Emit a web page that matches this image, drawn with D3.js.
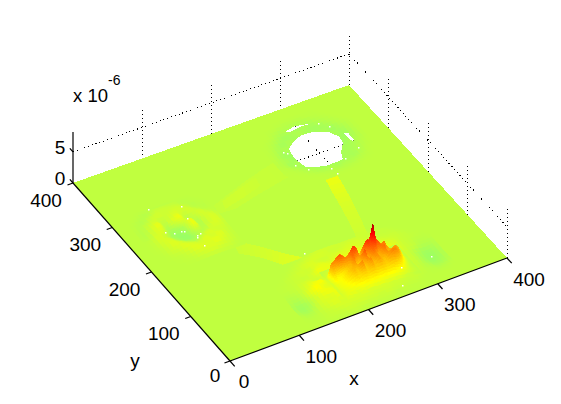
<!DOCTYPE html>
<html>
<head>
<meta charset="utf-8">
<script src="https://cdn.jsdelivr.net/npm/d3@7"></script>
<style>
  html, body { margin: 0; padding: 0; background: #fff; }
  svg { display: block; }
  text { font-family: "Liberation Sans", Arial, sans-serif; fill: #000; }
</style>
</head>
<body>
<svg id="chart" width="561" height="404"></svg>
<script>
// tick values
const xTicks = [0, 100, 200, 300, 400];
const yTicks = [0, 100, 200, 300, 400];
const zTicks = [0, 5];
const zMax = 8.2;              // z values are in units of 1e-6
const colorMin = -9.8, colorMax = 7.6;

// main peak, rows run back to front
const peakXs = [182,186,190,194,198,202,206,210,214,218,222,226,230,234,238,242,246,250,254,258,262,266,270,274,278,282,286,290,294];
const peakYs = [94,86,78,70,62,54,46,38,30];
const peakZ = [
  [0,0,0,0,0,0,0,.1,.2,.2,.2,.3,.3,.3,.3,.4,.4,.4,.3,.3,.2,.2,.2,.1,0,0,0,0,0],
  [0,.2,.3,.4,.5,.6,.8,1,1,1.1,1.2,1.2,1.2,1.2,1.4,1.4,1.5,1.4,1.2,1.2,1,.8,.6,.5,.4,.3,.2,.1,0],
  [.2,.4,.6,.8,1,1.2,1.3,1.4,1.6,2,1.8,1.4,1.7,2.6,3.2,3,3.6,3,2.6,2.2,2.2,1.6,1.3,1.1,.8,.5,.3,.2,0],
  [.3,3.0,3.2,3.8,4.0,3.6,3.2,3.3,4.0,4.6,4.0,2.8,2.3,4.2,4.8,4.4,6.9,4.4,3.8,3.1,3.6,2.6,1.8,1.8,1.7,1.3,.6,.2,0],
  [.3,1.6,1.2,1.1,1.3,1.6,2.1,2.2,3.6,1.8,1.4,3,4.2,2.2,3,3.7,3,2.3,3.1,3.7,2.4,2.4,2.7,2.9,2.5,1.5,.6,.2,0],
  [.3,.9,.9,1.1,1.4,1.7,2,2.4,1.9,2.8,3.2,1.9,2.5,3.2,2.2,2.5,2.9,2.4,2,2.7,3,3.3,3.2,2.7,1.7,.9,.4,.1,0],
  [.3,.7,.9,1,1.2,1.4,1.6,1.8,1.7,1.9,2,1.8,2,2.1,1.9,1.9,2,1.9,1.8,2,2.1,2.1,1.9,1.5,.9,.5,.2,.1,0],
  [.3,.5,.7,.8,.9,1,1.1,1.2,1.2,1.3,1.3,1.2,1.3,1.3,1.2,1.2,1.3,1.2,1.2,1.2,1.1,1,.9,.7,.5,.3,.2,.1,0],
  [.4,.5,.7,.5,.6,.4,.5,.7,.5,.6,.7,.6,.5,.5,.6,.5,.4,.4,.5,.3,.4,.3,.2,.1,.1,.1,0,0,0]
];

// ripples around the peak
const auraXs = [120,130,140,150,160,170,180,190,200,210,220,230,240,250,260,270,280,290,300,310,320,330,340];
const auraYs = [130,120,110,100,90,80,70,60,50,40,30,20,10,0];
const auraZ = [
  [0,0,0,0,0,0,.1,.2,.3,.3,.3,.2,.2,.2,.2,.2,.1,.1,0,0,0,0,0],
  [0,0,0,0,.1,.2,.3,.4,.4,.3,.2,.3,.4,.4,.3,.2,.1,.1,.1,0,0,0,0],
  [0,0,0,.1,.2,.4,.5,.3,.2,.4,.5,.5,.5,.4,.4,.4,.3,.2,.2,.1,0,0,0],
  [0,0,.1,.2,.3,.2,.5,.7,.5,.6,.7,.7,.8,.8,.7,.6,.5,.4,.2,.1,.05,0,0],
  [0,.05,.1,.2,.1,.4,.9,.7,.8,.8,.8,.8,.8,.8,.8,.8,.7,.5,.2,.1,-.05,-.05,0],
  [0,.05,.1,.3,.5,.2,.3,.7,.8,.8,.8,.8,.8,.8,.8,.8,.8,.5,.2,.1,-.15,-.2,-.1],
  [-.05,-.1,.05,.4,.8,1.1,.4,.5,.8,.8,.8,.8,.8,.8,.8,.8,.7,.3,.1,-.25,-.5,-.4,-.1],
  [-.15,-.3,-.1,.6,1.2,.6,.5,.7,.8,.7,.8,.8,.8,.8,.7,.7,.6,.3,.1,-.3,-.6,-.55,-.15],
  [-.25,-.55,-.4,.2,.7,.9,.7,.8,.7,.8,.7,.8,.7,.7,.6,.6,.4,.2,.05,-.3,-.6,-.5,-.15],
  [-.2,-.45,-.3,.3,.5,.4,.8,.6,.7,.6,.7,.6,.5,.6,.4,.5,.3,.2,0,-.15,-.4,-.35,-.1],
  [-.05,-.2,-.1,.2,.4,.6,.3,.6,.4,.6,.4,.5,.4,.3,.3,.2,.2,.1,0,-.05,-.15,-.1,0],
  [0,-.05,0,.1,.2,.3,.4,.3,.4,.3,.3,.2,.3,.2,.2,.1,.1,0,0,0,0,0,0],
  [0,0,0,.1,.1,.1,.2,.2,.1,.1,.1,.1,.1,0,0,0,0,0,0,0,0,0,0],
  [0,0,0,0,0,0,0,0,0,0,0,0,0,0,0,0,0,0,0,0,0,0,0]
];

// left blob
const blobXs = [20,30,40,50,60,70,80,90,100,110,120,130];
const blobYs = [310,300,290,280,270,260,250,240,230,220,210,200,190];
const blobZ = [
  [0,0,0,-.05,-.1,-.1,-.1,-.05,0,0,0,0],
  [0,0,-.1,-.2,.15,.2,.15,.1,-.1,-.05,0,0],
  [0,-.1,-.2,.2,.35,.2,.3,.35,.15,-.15,-.05,0],
  [0,-.15,.15,.35,.05,.25,.5,.25,.35,.1,-.1,0],
  [-.05,-.15,.3,.8,-.2,.4,.9,-.2,.1,.4,.1,0],
  [-.05,-.1,.4,.5,-.4,-.5,-.1,.8,-.3,.3,.4,.05],
  [0,.1,.5,.1,-.5,-.7,-.6,.9,-.25,.2,.5,.1],
  [0,.1,.4,.4,-.15,-.6,-.65,-.15,-.1,.4,.4,.1],
  [0,.05,.25,.6,.3,-.05,-.3,.1,.5,.25,.25,.05],
  [0,0,.2,.3,.6,.4,.2,.6,.3,.6,.2,.05],
  [0,0,.05,.1,.3,.6,.5,.4,.7,.4,.2,0],
  [0,0,0,.05,.1,.3,.4,.5,.3,.25,.1,0],
  [0,0,0,0,0,.05,.1,.1,.1,.05,0,0]
];

// rim around the clipped hole
const ringXs = [240,250,260,270,280,290,300,310,320,330,340,350,360,370];
const ringYs = [380,370,360,350,340,330,320,310,300,290,280,270,260,250];
const ringZ = [
  [0,0,0,0,0,0,0,0,0,0,0,0,0,0],
  [0,0,0,0,-.05,-.15,-.1,-.15,-.05,-.05,0,0,0,0],
  [0,0,0,-.15,-.3,-.2,-.5,-.25,-.4,-.15,-.1,0,0,0],
  [0,0,-.1,-.3,-.5,-.4,-.2,-.4,-.5,-.5,-.2,-.1,0,0],
  [0,-.05,-.25,-.5,-.2,-.4,-.4,-.4,-.4,-.3,-.6,-.25,-.1,0],
  [0,-.1,-.35,-.2,-.5,-.4,-.4,-.4,-.4,-.4,-.3,-.5,-.15,0],
  [0,-.15,-.5,-.5,-.4,-.4,-.4,-.4,-.4,-.4,-.5,-.6,-.2,0],
  [0,-.2,-.3,-.6,-.4,-.4,-.4,-.4,-.4,-.4,-.5,-.35,-.2,0],
  [-.05,-.15,-.5,-.25,-.5,-.4,-.4,-.4,-.4,-.4,-.4,-.3,-.1,0],
  [0,-.05,-.2,-.4,-.5,-.4,-.4,-.4,-.4,-.4,-.35,-.25,-.05,0],
  [0,0,-.05,-.2,-.3,-.45,-.5,-.4,-.5,-.35,-.4,-.15,0,0],
  [0,0,0,-.05,-.15,-.25,-.2,-.35,-.2,-.25,-.15,-.05,0,0],
  [0,0,0,0,0,-.05,-.1,-.1,-.1,-.05,0,0,0,0],
  [0,0,0,0,0,0,0,0,0,0,0,0,0,0]
];

// faint beams between the three sources: [x1, y1, x2, y2, z] across each beam
const beamA = [
  [133,275,130,258,.08],
  [160,286,155,256,.12],
  [190,297,182,264,.14],
  [215,305,212,271,.12],
  [242,313,243,278,.1]
];
const beamAcore = [
  [146,277,142,262,.22],
  [176,288,172,270,.26],
  [206,298,203,280,.18]
];
const beamB = [
  [283,264,300,263,.9],
  [276,228,294,227,.6],
  [270,192,287,190,.38],
  [263,156,279,155,.28],
  [256,126,270,118,.2]
];
const beamC = [
  [120,203,113,178,.18],
  [142,178,134,156,.28],
  [164,148,152,128,.46],
  [186,124,174,112,.6],
  [206,108,192,100,.55]
];

// clipped parts of the surface, in x/y
const holeMain = [[270.5,325.8],[281.8,335.2],[297.3,342.1],[315.3,340.7],[330.5,331.9],[337.6,316.5],[336.2,303.6],[324.2,287.9],[319.5,274.6],[308.9,273.9],[294.2,273.5],[280.1,279.3],[271.4,284.4],[268.7,297.3],[268.1,311.3]];
const holeLeft = [[284.8,358.4],[298.4,361.9],[311.2,359],[319.8,356.3],[306.1,357.5],[293.5,355.7],[287.1,354.8]];
const holeRight = [[345.9,320.7],[351.3,317.6],[351,301.9],[347.9,299],[346.4,309.1]];
const specks = [[185,138],[261,21],[320,53],[276,52],[58,310],[96,294],[91,270],[53,260],[62,253],[72,252],[75,250],[85,235],[84,231],[91,236],[83,213],[328,353],[337,341],[303,342],[348,287],[261,324],[264,320],[261,294],[271,279],[298,268],[299,254],[324,276]];

const svg = d3.select("#chart");

// corners of the box floor on screen
const front = [230, 361], right = [507, 258], left = [73, 183], back = [349, 85];

const xScale = d3.scaleLinear().domain([0, 400]).range([0, 1]);
const yScale = d3.scaleLinear().domain([0, 400]).range([0, 1]);
const zScale = d3.scaleLinear().domain([0, zMax]).range([0, 51]);

function project(x, y, z) {
  const u = xScale(x), v = yScale(y);
  const px = (1 - u) * (1 - v) * front[0] + u * (1 - v) * right[0] + (1 - u) * v * left[0] + u * v * back[0];
  const py = (1 - u) * (1 - v) * front[1] + u * (1 - v) * right[1] + (1 - u) * v * left[1] + u * v * back[1];
  return [px, py - zScale(z)];
}

// jet colormap
const jet = d3.scaleLinear()
  .domain([0, .125, .375, .625, .875, 1])
  .range(["#00008f", "#0000ff", "#00ffff", "#ffff00", "#ff0000", "#800000"])
  .clamp(true);
const zColor = z => jet((z - colorMin) / (colorMax - colorMin));

const line = d3.line();
const polyPath = pts => line(pts) + "Z";

function dotted(g, p0, p1) {
  g.append("line")
    .attr("x1", p0[0]).attr("y1", p0[1])
    .attr("x2", p1[0]).attr("y2", p1[1])
    .attr("stroke", "#000")
    .attr("stroke-width", 1)
    .attr("stroke-dasharray", "1 3")
    .attr("shape-rendering", "crispEdges");
}

// back walls
const wall = svg.append("g");
xTicks.slice(1).forEach(t => dotted(wall, project(t, 400, 0), project(t, 400, zMax)));
yTicks.slice(0, -1).forEach(t => dotted(wall, project(400, t, 0), project(400, t, zMax)));
zTicks.slice(1).forEach(t => {
  dotted(wall, project(0, 400, t), project(400, 400, t));
  dotted(wall, project(400, 400, t), project(400, 0, t));
});

// flat part of the surface
const surface = svg.append("g").attr("shape-rendering", "crispEdges");
surface.append("path")
  .attr("d", polyPath([project(0, 0, 0), project(400, 0, 0), project(400, 400, 0), project(0, 400, 0)]))
  .attr("fill", zColor(0));

// beams
function drawBeam(stations) {
  d3.pairs(stations).forEach(([a, b]) => {
    const steps = 4;
    d3.range(steps).forEach(i => {
      const s0 = i / steps, s1 = (i + 1) / steps;
      const at = (k, s) => a[k] + (b[k] - a[k]) * s;
      surface.append("path")
        .attr("d", polyPath([
          project(at(0, s0), at(1, s0), 0), project(at(2, s0), at(3, s0), 0),
          project(at(2, s1), at(3, s1), 0), project(at(0, s1), at(1, s1), 0)
        ]))
        .attr("fill", zColor(at(4, (s0 + s1) / 2)));
    });
  });
}
drawBeam(beamA);
drawBeam(beamAcore);
drawBeam(beamB);
drawBeam(beamC);

// height fields, painted from the back corner forwards
function drawMesh(xs, ys, zs) {
  for (let r = 0; r < ys.length - 1; r++) {
    for (let c = xs.length - 2; c >= 0; c--) {
      const zBackRight = zs[r][c + 1], zBackLeft = zs[r][c];
      const zFrontRight = zs[r + 1][c + 1], zFrontLeft = zs[r + 1][c];
      const all = [zBackRight, zBackLeft, zFrontRight, zFrontLeft];
      if (all.every(d => d === 0)) continue;
      // fine shading inside a cell so the colour follows the height
      const n = Math.max(2, Math.min(14, Math.ceil((d3.max(all) - d3.min(all)) * 3)));
      for (let j = 0; j < n; j++) {
        for (let i = n - 1; i >= 0; i--) {
          const corner = (ii, jj) => {
            const s = ii / n, t = jj / n;
            const x = xs[c] + (xs[c + 1] - xs[c]) * s;
            const y = ys[r] + (ys[r + 1] - ys[r]) * t;
            const z = (1 - t) * ((1 - s) * zBackLeft + s * zBackRight) + t * ((1 - s) * zFrontLeft + s * zFrontRight);
            return [x, y, z];
          };
          const q = [corner(i, j), corner(i + 1, j), corner(i + 1, j + 1), corner(i, j + 1)];
          const col = zColor(d3.mean(q, d => d[2]));
          surface.append("path")
            .attr("d", polyPath(q.map(d => project(d[0], d[1], d[2]))))
            .attr("fill", col)
            .attr("stroke", col)
            .attr("stroke-width", .5);
        }
      }
    }
  }
}
drawMesh(auraXs, auraYs, auraZ);
drawMesh(blobXs, blobYs, blobZ);
drawMesh(ringXs, ringYs, ringZ);
drawMesh(peakXs, peakYs, peakZ);

// holes show the white floor with its grid
const holes = [holeMain, holeLeft, holeRight];
const defs = svg.append("defs");
const clip = defs.append("clipPath").attr("id", "holeClip");
holes.forEach(h => {
  const d = polyPath(h.map(p => project(p[0], p[1], 0)));
  surface.append("path").attr("d", d).attr("fill", "#fff");
  clip.append("path").attr("d", d);
});
const floorGrid = svg.append("g").attr("clip-path", "url(#holeClip)");
xTicks.slice(1, -1).forEach(t => dotted(floorGrid, project(t, 0, 0), project(t, 400, 0)));
yTicks.slice(1, -1).forEach(t => dotted(floorGrid, project(0, t, 0), project(400, t, 0)));

svg.append("g").selectAll("rect")
  .data(specks)
  .join("rect")
  .attr("x", d => Math.round(project(d[0], d[1], 0)[0]))
  .attr("y", d => Math.round(project(d[0], d[1], 0)[1]))
  .attr("width", 1.5)
  .attr("height", 1.5)
  .attr("fill", "#fff");

// axes
const axes = svg.append("g").attr("stroke", "#000").attr("stroke-width", 1.2);
function axisLine(p0, p1) {
  axes.append("line")
    .attr("x1", p0[0]).attr("y1", p0[1])
    .attr("x2", p1[0]).attr("y2", p1[1]);
}
axisLine(project(0, 0, 0), project(400, 0, 0));
axisLine(project(0, 0, 0), project(0, 400, 0));
axisLine(project(0, 400, 0), project(0, 400, zMax));

const labels = svg.append("g").attr("font-size", 19).attr("text-anchor", "middle");
function label(p, dx, dy, s) {
  labels.append("text")
    .attr("x", p[0] + dx)
    .attr("y", p[1] + dy)
    .attr("dy", "0.35em")
    .text(s);
}

xTicks.forEach(t => {
  const p = project(t, 0, 0);
  const q = project(t, -12, 0);
  axisLine(p, q);
  if (t === 0) label(p, 14, 20, t);
  else label(p, 22, 21, t);
});
yTicks.forEach(t => {
  const p = project(0, t, 0);
  const q = project(-8, t, 0);
  axisLine(p, q);
  if (t === 0) label(p, -15, 14, t);
  else label(p, -27, 17, t);
});
zTicks.forEach(t => {
  const p = project(0, 400, t);
  const q = project(0, 408, t);
  axisLine(p, q);
  label(p, -13, -5, t);
});

labels.append("text").attr("x", 354).attr("y", 378).attr("dy", "0.35em").text("x");
labels.append("text").attr("x", 135).attr("y", 360).attr("dy", "0.35em").text("y");
labels.append("text").attr("x", 73).attr("y", 102).attr("text-anchor", "start").attr("font-size", 18.5).text("x 10");
labels.append("text").attr("x", 108).attr("y", 85).attr("text-anchor", "start").attr("font-size", 14).text("-6");
</script>
</body>
</html>
